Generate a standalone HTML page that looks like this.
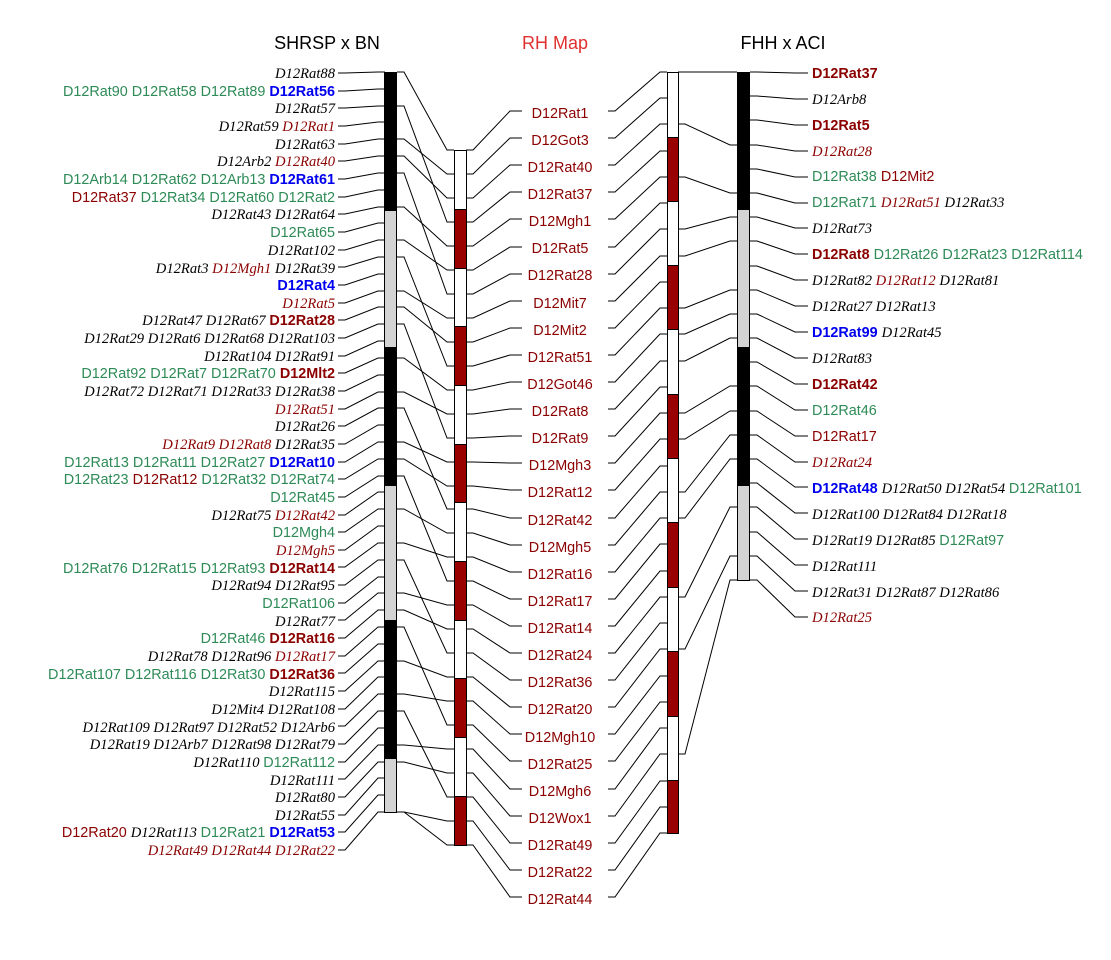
<!DOCTYPE html>
<html><head><meta charset="utf-8"><style>
html,body{margin:0;padding:0;background:#fff;}
svg{display:block}
.s{font-family:"Liberation Sans",sans-serif;font-size:14.4px}
.i{font-family:"Liberation Serif",serif;font-style:italic;font-size:14.6px}
.g{fill:#2e8b57}.k{fill:#000}.r{fill:#8b0000}.b{fill:#0000ee;font-weight:bold}.R{fill:#8b0000;font-weight:bold}
.t{font-family:"Liberation Sans",sans-serif;font-size:18px}
</style></head><body>
<svg id="sv" width="1111" height="960" viewBox="0 0 1111 960" xmlns="http://www.w3.org/2000/svg">
<text class="t" x="327" y="49" text-anchor="middle">SHRSP x BN</text>
<text class="t" x="555" y="49" text-anchor="middle" fill="#e03030">RH Map</text>
<text class="t" x="783" y="49" text-anchor="middle">FHH x ACI</text>
<g id="lines" stroke="#000" stroke-width="1" fill="none"></g>
<g id="chr"></g>
<g id="left" text-anchor="end">
<text x="335" y="78"><tspan class="i k">D12Rat88</tspan></text>
<text x="335" y="96"><tspan class="s g">D12Rat90 D12Rat58 D12Rat89 </tspan><tspan class="s b">D12Rat56</tspan></text>
<text x="335" y="113"><tspan class="i k">D12Rat57</tspan></text>
<text x="335" y="131"><tspan class="i k">D12Rat59 </tspan><tspan class="i r">D12Rat1</tspan></text>
<text x="335" y="149"><tspan class="i k">D12Rat63</tspan></text>
<text x="335" y="166"><tspan class="i k">D12Arb2 </tspan><tspan class="i r">D12Rat40</tspan></text>
<text x="335" y="184"><tspan class="s g">D12Arb14 D12Rat62 D12Arb13 </tspan><tspan class="s b">D12Rat61</tspan></text>
<text x="335" y="202"><tspan class="s r">D12Rat37 </tspan><tspan class="s g">D12Rat34 D12Rat60 D12Rat2</tspan></text>
<text x="335" y="219"><tspan class="i k">D12Rat43 D12Rat64</tspan></text>
<text x="335" y="237"><tspan class="s g">D12Rat65</tspan></text>
<text x="335" y="255"><tspan class="i k">D12Rat102</tspan></text>
<text x="335" y="273"><tspan class="i k">D12Rat3 </tspan><tspan class="i r">D12Mgh1 </tspan><tspan class="i k">D12Rat39</tspan></text>
<text x="335" y="290"><tspan class="s b">D12Rat4</tspan></text>
<text x="335" y="308"><tspan class="i r">D12Rat5</tspan></text>
<text x="335" y="325"><tspan class="i k">D12Rat47 D12Rat67 </tspan><tspan class="s R">D12Rat28</tspan></text>
<text x="335" y="343"><tspan class="i k">D12Rat29 D12Rat6 D12Rat68 D12Rat103</tspan></text>
<text x="335" y="361"><tspan class="i k">D12Rat104 D12Rat91</tspan></text>
<text x="335" y="378"><tspan class="s g">D12Rat92 D12Rat7 D12Rat70 </tspan><tspan class="s R">D12Mlt2</tspan></text>
<text x="335" y="396"><tspan class="i k">D12Rat72 D12Rat71 D12Rat33 D12Rat38</tspan></text>
<text x="335" y="414"><tspan class="i r">D12Rat51</tspan></text>
<text x="335" y="431"><tspan class="i k">D12Rat26</tspan></text>
<text x="335" y="449"><tspan class="i r">D12Rat9 D12Rat8 </tspan><tspan class="i k">D12Rat35</tspan></text>
<text x="335" y="467"><tspan class="s g">D12Rat13 D12Rat11 D12Rat27 </tspan><tspan class="s b">D12Rat10</tspan></text>
<text x="335" y="484"><tspan class="s g">D12Rat23 </tspan><tspan class="s r">D12Rat12 </tspan><tspan class="s g">D12Rat32 D12Rat74</tspan></text>
<text x="335" y="502"><tspan class="s g">D12Rat45</tspan></text>
<text x="335" y="520"><tspan class="i k">D12Rat75 </tspan><tspan class="i r">D12Rat42</tspan></text>
<text x="335" y="537"><tspan class="s g">D12Mgh4</tspan></text>
<text x="335" y="555"><tspan class="i r">D12Mgh5</tspan></text>
<text x="335" y="573"><tspan class="s g">D12Rat76 D12Rat15 D12Rat93 </tspan><tspan class="s R">D12Rat14</tspan></text>
<text x="335" y="590"><tspan class="i k">D12Rat94 D12Rat95</tspan></text>
<text x="335" y="608"><tspan class="s g">D12Rat106</tspan></text>
<text x="335" y="626"><tspan class="i k">D12Rat77</tspan></text>
<text x="335" y="643"><tspan class="s g">D12Rat46 </tspan><tspan class="s R">D12Rat16</tspan></text>
<text x="335" y="661"><tspan class="i k">D12Rat78 D12Rat96 </tspan><tspan class="i r">D12Rat17</tspan></text>
<text x="335" y="679"><tspan class="s g">D12Rat107 D12Rat116 D12Rat30 </tspan><tspan class="s R">D12Rat36</tspan></text>
<text x="335" y="696"><tspan class="i k">D12Rat115</tspan></text>
<text x="335" y="714"><tspan class="i k">D12Mit4 D12Rat108</tspan></text>
<text x="335" y="732"><tspan class="i k">D12Rat109 D12Rat97 D12Rat52 D12Arb6</tspan></text>
<text x="335" y="749"><tspan class="i k">D12Rat19 D12Arb7 D12Rat98 D12Rat79</tspan></text>
<text x="335" y="767"><tspan class="i k">D12Rat110 </tspan><tspan class="s g">D12Rat112</tspan></text>
<text x="335" y="785"><tspan class="i k">D12Rat111</tspan></text>
<text x="335" y="802"><tspan class="i k">D12Rat80</tspan></text>
<text x="335" y="820"><tspan class="i k">D12Rat55</tspan></text>
<text x="335" y="837"><tspan class="s r">D12Rat20 </tspan><tspan class="i k">D12Rat113 </tspan><tspan class="s g">D12Rat21 </tspan><tspan class="s b">D12Rat53</tspan></text>
<text x="335" y="855"><tspan class="i r">D12Rat49 D12Rat44 D12Rat22</tspan></text>
</g>
<g id="mid" text-anchor="middle" class="s r">
<text x="560" y="118">D12Rat1</text><text x="560" y="145">D12Got3</text><text x="560" y="172">D12Rat40</text><text x="560" y="199">D12Rat37</text><text x="560" y="226">D12Mgh1</text><text x="560" y="253">D12Rat5</text><text x="560" y="280">D12Rat28</text><text x="560" y="308">D12Mit7</text><text x="560" y="335">D12Mit2</text><text x="560" y="362">D12Rat51</text><text x="560" y="389">D12Got46</text><text x="560" y="416">D12Rat8</text><text x="560" y="443">D12Rat9</text><text x="560" y="470">D12Mgh3</text><text x="560" y="497">D12Rat12</text><text x="560" y="525">D12Rat42</text><text x="560" y="552">D12Mgh5</text><text x="560" y="579">D12Rat16</text><text x="560" y="606">D12Rat17</text><text x="560" y="633">D12Rat14</text><text x="560" y="660">D12Rat24</text><text x="560" y="687">D12Rat36</text><text x="560" y="714">D12Rat20</text><text x="560" y="742">D12Mgh10</text><text x="560" y="769">D12Rat25</text><text x="560" y="796">D12Mgh6</text><text x="560" y="823">D12Wox1</text><text x="560" y="850">D12Rat49</text><text x="560" y="877">D12Rat22</text><text x="560" y="904">D12Rat44</text>
</g>
<g id="right">
<text x="812" y="78"><tspan class="s R">D12Rat37</tspan></text>
<text x="812" y="104"><tspan class="i k">D12Arb8</tspan></text>
<text x="812" y="130"><tspan class="s R">D12Rat5</tspan></text>
<text x="812" y="156"><tspan class="i r">D12Rat28</tspan></text>
<text x="812" y="181"><tspan class="s g">D12Rat38 </tspan><tspan class="s r">D12Mit2</tspan></text>
<text x="812" y="207"><tspan class="s g">D12Rat71 </tspan><tspan class="i r">D12Rat51 </tspan><tspan class="i k">D12Rat33</tspan></text>
<text x="812" y="233"><tspan class="i k">D12Rat73</tspan></text>
<text x="812" y="259"><tspan class="s R">D12Rat8 </tspan><tspan class="s g">D12Rat26 D12Rat23 D12Rat114</tspan></text>
<text x="812" y="285"><tspan class="i k">D12Rat82 </tspan><tspan class="i r">D12Rat12 </tspan><tspan class="i k">D12Rat81</tspan></text>
<text x="812" y="311"><tspan class="i k">D12Rat27 D12Rat13</tspan></text>
<text x="812" y="337"><tspan class="s b">D12Rat99 </tspan><tspan class="i k">D12Rat45</tspan></text>
<text x="812" y="363"><tspan class="i k">D12Rat83</tspan></text>
<text x="812" y="389"><tspan class="s R">D12Rat42</tspan></text>
<text x="812" y="415"><tspan class="s g">D12Rat46</tspan></text>
<text x="812" y="441"><tspan class="s r">D12Rat17</tspan></text>
<text x="812" y="467"><tspan class="i r">D12Rat24</tspan></text>
<text x="812" y="493"><tspan class="s b">D12Rat48 </tspan><tspan class="i k">D12Rat50 D12Rat54 </tspan><tspan class="s g">D12Rat101</tspan></text>
<text x="812" y="519"><tspan class="i k">D12Rat100 D12Rat84 D12Rat18</tspan></text>
<text x="812" y="545"><tspan class="i k">D12Rat19 D12Rat85 </tspan><tspan class="s g">D12Rat97</tspan></text>
<text x="812" y="571"><tspan class="i k">D12Rat111</tspan></text>
<text x="812" y="597"><tspan class="i k">D12Rat31 D12Rat87 D12Rat86</tspan></text>
<text x="812" y="622"><tspan class="i r">D12Rat25</tspan></text>
</g>
</svg>
<script>
var NS="http://www.w3.org/2000/svg";
var L=document.getElementById("lines"),C=document.getElementById("chr");
function pl(p){var e=document.createElementNS(NS,"polyline");e.setAttribute("points",p.map(function(a){return a.join(",")}).join(" "));L.appendChild(e);}
function rect(x,y,w,h,f){var e=document.createElementNS(NS,"rect");e.setAttribute("x",x+.5);e.setAttribute("y",y+.5);e.setAttribute("width",w);e.setAttribute("height",h);e.setAttribute("fill",f);e.setAttribute("stroke","#000");C.appendChild(e);}
var lt=[];for(var i=0;i<45;i++)lt.push(Math.round(72+i*740/44));
for(var i=0;i<45;i++){var ly=Math.round(73+i*17.66);pl([[338,ly],[345,ly],[378,lt[i]],[385,lt[i]]]);}
var r1=[],r2=[];for(var j=0;j<30;j++){r1.push(Math.round(150+j*695/29));r2.push(Math.round(72+j*761/29));}
for(var j=0;j<30;j++){var ly=Math.round(111+j*27.1);
pl([[466,r1[j]],[473,r1[j]],[510,ly],[522,ly]]);
pl([[608,ly],[615,ly],[660,r2[j]],[667,r2[j]]]);
var li=Math.min(44,Math.round(j*44/29)+ (j%3==0?-3:2));if(li<0)li=0;
pl([[397,lt[li]],[404,lt[li]],[447,r1[j]],[454,r1[j]]]);}
var ft=[];for(var k=0;k<22;k++)ft.push(Math.round(72+k*508/21));
for(var k=0;k<22;k++){var ly=Math.round(73+k*25.9);pl([[750,ft[k]],[757,ft[k]],[795,ly],[808,ly]]);}
var conn=[[0,0],[2,3],[4,5],[6,6],[7,7],[9,9],[10,10],[11,11],[13,13],[14,14],[16,15],[17,16],[20,18],[22,20],[26,21]];
conn.forEach(function(c){pl([[678,r2[c[0]]],[685,r2[c[0]]],[730,ft[c[1]]],[737,ft[c[1]]]]);});
rect(384,72,12,138,"#000");rect(384,210,12,137,"#d3d3d3");rect(384,347,12,138,"#000");rect(384,485,12,135,"#d3d3d3");rect(384,620,12,138,"#000");rect(384,758,12,54,"#d3d3d3");
var s1=[150,209,268,326,385,444,502,561,620,678,737,796,845];
for(var i=0;i<12;i++)rect(454,s1[i],12,s1[i+1]-s1[i],i%2?"#990000":"#fff");
var s2=[72,137,201,265,329,394,458,522,587,651,716,780,833];
for(var i=0;i<12;i++)rect(667,s2[i],11,s2[i+1]-s2[i],i%2?"#990000":"#fff");
rect(737,72,12,137,"#000");rect(737,209,12,138,"#d3d3d3");rect(737,347,12,138,"#000");rect(737,485,12,95,"#d3d3d3");
</script>
</body></html>
